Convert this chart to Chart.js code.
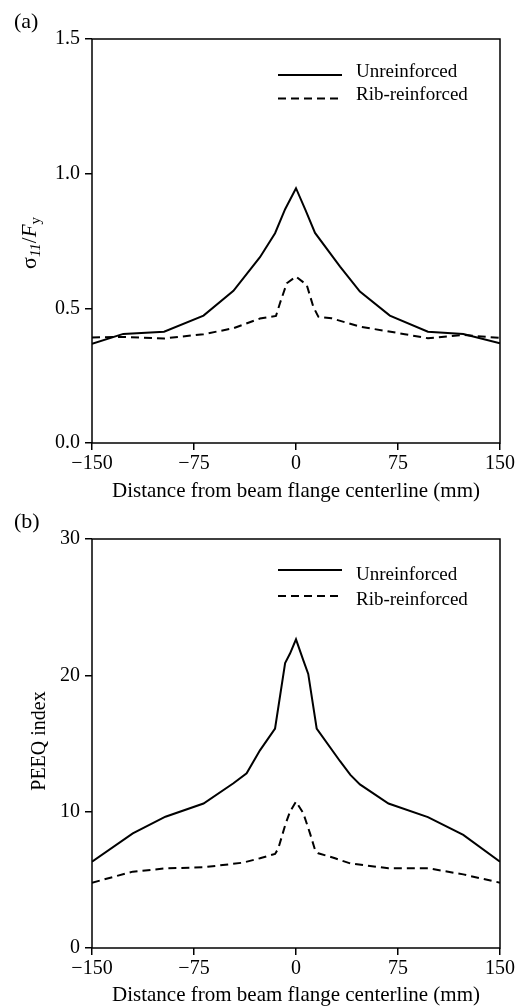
<!DOCTYPE html>
<html><head><meta charset="utf-8">
<script src="https://cdn.jsdelivr.net/npm/chart.js@4"></script>
<style>
html,body{margin:0;padding:0;background:#fff;width:522px;height:1008px;overflow:hidden}
.w{position:absolute;left:0;width:522px;height:504px}
</style></head><body>
<div class="w" style="top:0"><canvas id="ca" width="522" height="504"></canvas></div>
<div class="w" style="top:504px"><canvas id="cb" width="522" height="504"></canvas></div>
<script>
// ---------- data ----------
const seriesNames = ['Unreinforced', 'Rib-reinforced'];
const xTicks = [-150, -75, 0, 75, 150];
const yTicksA = [0.0, 0.5, 1.0, 1.5];
const yTicksB = [0, 10, 20, 30];

// (a) sigma11/Fy
const aUnrX = [-150, -127, -97, -68, -46, -26.5, -15.4, -8, 0, 7, 14, 32.4, 47, 69, 97, 123, 150];
const aUnrY = [0.368, 0.405, 0.413, 0.473, 0.565, 0.69, 0.779, 0.868, 0.946, 0.865, 0.78, 0.655, 0.562, 0.473, 0.413, 0.405, 0.37];
const aRibX = [-150, -127, -97, -68, -46, -26.5, -14.7, -11.8, -6.8, 0, 7.9, 12.7, 16.4, 26.2, 47, 80, 97, 123, 150];
const aRibY = [0.392, 0.394, 0.388, 0.404, 0.426, 0.462, 0.472, 0.519, 0.593, 0.618, 0.587, 0.506, 0.469, 0.463, 0.432, 0.404, 0.389, 0.401, 0.39];

// (b) PEEQ index
const bUnrX = [-150, -120, -96, -68, -46, -36.3, -26.5, -15.4, -8, -4.4, 0, 5.4, 9, 15.2, 32.4, 40, 47, 68, 97, 123, 150];
const bUnrY = [6.33, 8.41, 9.63, 10.6, 12.08, 12.81, 14.5, 16.1, 20.9, 21.6, 22.64, 21.1, 20.1, 16.1, 13.7, 12.7, 12.0, 10.6, 9.6, 8.3, 6.33];
const bRibX = [-150, -120, -96, -68, -39, -26.5, -15.4, -13, -8, -4.4, 0, 5.4, 10.3, 14, 16.4, 28.7, 40, 68, 97, 123, 150];
const bRibY = [4.79, 5.6, 5.84, 5.92, 6.26, 6.58, 6.9, 7.3, 9.0, 10.0, 10.73, 9.88, 8.41, 7.19, 6.95, 6.58, 6.2, 5.85, 5.85, 5.4, 4.79];

// ---------- helpers ----------
const SERIF = '"Liberation Serif", "Times New Roman", serif';
const DASH = [8, 5];
const pts = (xs, ys) => xs.map((x, i) => ({x: x, y: ys[i]}));
const fmtX = v => (v < 0 ? '\u2212' + Math.abs(v) : String(v));

function makeChart(id, o) {
  const decor = {
    id: 'decor_' + id,
    afterDatasetsDraw(chart) {
      const ctx = chart.ctx, a = chart.chartArea;
      ctx.save();
      // frame
      ctx.strokeStyle = '#000'; ctx.lineWidth = 1.5; ctx.setLineDash([]);
      ctx.strokeRect(a.left, a.top, a.right - a.left, a.bottom - a.top);
      // legend
      chart.data.datasets.forEach((ds, i) => {
        const ly = o.legendLineY[i];
        ctx.beginPath();
        ctx.setLineDash(ds.borderDash || []);
        ctx.lineWidth = 2; ctx.strokeStyle = '#000';
        ctx.moveTo(278, ly); ctx.lineTo(342, ly); ctx.stroke();
        ctx.setLineDash([]);
        ctx.fillStyle = '#000';
        ctx.font = '19px ' + SERIF;
        ctx.textAlign = 'left'; ctx.textBaseline = 'alphabetic';
        ctx.fillText(ds.label, 356, o.legendTextY[i]);
      });
      // panel label
      ctx.font = '22px ' + SERIF;
      ctx.fillText(o.panel, 14, o.panelY);
      // y title
      ctx.translate(o.yTitleX, o.yTitleCY);
      ctx.rotate(-Math.PI / 2);
      let total = 0;
      o.yTitle.forEach(p => { ctx.font = p.f; p.w = ctx.measureText(p.t).width; total += p.w; });
      let cx = -total / 2;
      o.yTitle.forEach(p => {
        ctx.font = p.f; ctx.textAlign = 'left'; ctx.textBaseline = 'alphabetic';
        ctx.fillText(p.t, cx, p.dy); cx += p.w;
      });
      ctx.restore();
    }
  };
  return new Chart(document.getElementById(id), {
    type: 'line',
    data: {
      datasets: [
        {label: seriesNames[0], data: pts(o.ux, o.uy), borderColor: '#000', borderWidth: 2, pointRadius: 0, tension: 0, fill: false},
        {label: seriesNames[1], data: pts(o.rx, o.ry), borderColor: '#000', borderWidth: 2, borderDash: DASH, pointRadius: 0, tension: 0, fill: false}
      ]
    },
    options: {
      responsive: false, animation: false, devicePixelRatio: 1,
      layout: {padding: {left: 0, right: 22, top: o.top, bottom: 0}},
      plugins: {legend: {display: false}, tooltip: {enabled: false}},
      scales: {
        x: {
          type: 'linear', min: -150, max: 150,
          afterBuildTicks: s => { s.ticks = xTicks.map(v => ({value: v})); },
          afterFit: s => { s.height = o.xh; },
          border: {display: false},
          grid: {display: true, drawOnChartArea: false, drawTicks: true, tickLength: 7, color: '#000', lineWidth: 1.5},
          ticks: {color: '#000', font: {family: SERIF, size: 20}, padding: 2, maxRotation: 0, callback: fmtX},
          title: {display: true, text: 'Distance from beam flange centerline (mm)', color: '#000', font: {family: SERIF, size: 21}, padding: {top: 0, bottom: 0}}
        },
        y: {
          type: 'linear', min: o.yTicks[0], max: o.yTicks[o.yTicks.length - 1],
          afterBuildTicks: s => { s.ticks = o.yTicks.map(v => ({value: v})); },
          afterFit: s => { s.width = 92; },
          border: {display: false},
          grid: {display: true, drawOnChartArea: false, drawTicks: true, tickLength: 7, color: '#000', lineWidth: 1.5},
          ticks: {color: '#000', font: {family: SERIF, size: 20}, padding: 5, callback: o.yFmt}
        }
      }
    },
    plugins: [decor]
  });
}

makeChart('ca', {
  ux: aUnrX, uy: aUnrY, rx: aRibX, ry: aRibY,
  yTicks: yTicksA, yFmt: v => Number(v).toFixed(1),
  top: 39, xh: 61,
  legendLineY: [75, 98.5], legendTextY: [77, 100],
  panel: '(a)', panelY: 28,
  yTitleX: 36, yTitleCY: 243,
  yTitle: [
    {t: '\u03C3', f: '22px ' + SERIF, dy: 0},
    {t: '11', f: 'italic 15px ' + SERIF, dy: 4},
    {t: '/', f: '21px ' + SERIF, dy: 0},
    {t: 'F', f: 'italic 21px ' + SERIF, dy: 0},
    {t: 'y', f: '15px ' + SERIF, dy: 4}
  ]
});

makeChart('cb', {
  ux: bUnrX, uy: bUnrY, rx: bRibX, ry: bRibY,
  yTicks: yTicksB, yFmt: v => String(v),
  top: 35, xh: 60,
  legendLineY: [66, 92], legendTextY: [76, 101],
  panel: '(b)', panelY: 24,
  yTitleX: 45, yTitleCY: 237,
  yTitle: [
    {t: 'PEEQ index', f: '20px ' + SERIF, dy: 0}
  ]
});
</script>
</body></html>
